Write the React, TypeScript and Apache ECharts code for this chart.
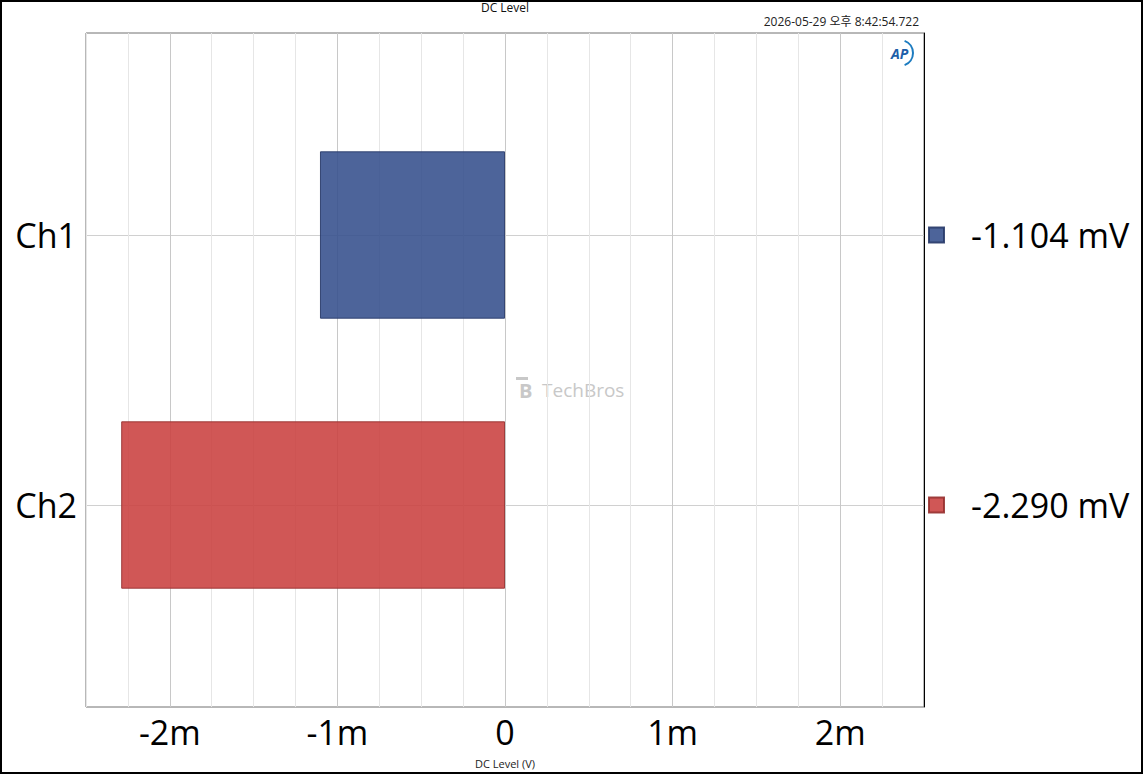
import React, { useEffect, useRef } from "react";
import * as echarts from "echarts";

// ---- data ----
const categories = ["Ch1", "Ch2"];
const dcLevelsV = [-0.001104, -0.00229];
const xTickValuesV = [-0.002, -0.001, 0, 0.001, 0.002];
const xTickLabels = ["-2m", "-1m", "0", "1m", "2m"];
const chartTitle = "DC Level";
const timestamp = "2026-05-29 오후 8:42:54.722";
const xAxisTitle = "DC Level (V)";

const barColors = ["rgba(52,78,140,0.88)", "rgba(202,64,63,0.88)"];
const barBorders = ["rgba(40,58,105,0.9)", "rgba(150,48,47,0.9)"];

const FONT = "'Open Sans', 'Noto Sans CJK KR', 'Noto Sans', sans-serif";

export default function App() {
  const ref = useRef<HTMLDivElement>(null);

  useEffect(() => {
    document.body.style.margin = "0";
    if (!ref.current) return;
    const chart = echarts.init(ref.current, undefined, { renderer: "svg" });

    const GL = 86, GT = 33, GW = 838, GH = 674;
    const BT = 100, BH = 540;
    const names = dcLevelsV.map((v) => `${(v * 1000).toFixed(3)} mV`);

    const xFmt = (v: number) => {
      const idx = xTickValuesV.findIndex((t) => Math.abs(t - v) < 1e-9);
      return idx >= 0 ? xTickLabels[idx] : "";
    };

    const option: any = {
      animation: false,
      textStyle: { fontFamily: FONT },
      grid: [
        {
          left: GL, top: GT, width: GW, height: GH,
          show: true, borderColor: "#707070", borderWidth: 1, backgroundColor: "#fff",
          outerBoundsMode: "none",
        },
        { left: GL, top: BT, width: GW, height: BH, outerBoundsMode: "none" },
      ],
      xAxis: [
        {
          type: "value", gridIndex: 0, min: -0.0025, max: 0.0025, interval: 0.00025,
          axisLine: { show: false }, axisTick: { show: false },
          axisLabel: { formatter: xFmt, fontSize: 34, color: "#000", margin: 8, fontFamily: FONT, showMinLabel: true, showMaxLabel: true },
          splitLine: { show: true, lineStyle: { color: ["#e6e6e6", "#e6e6e6", "#c8c8c8", "#e6e6e6"], width: 1 } },
        },
        {
          type: "value", gridIndex: 1, min: -0.0025, max: 0.0025, show: false,
          splitLine: { show: false },
        },
      ],
      yAxis: [
        {
          type: "value", gridIndex: 0, min: -0.75, max: 1.75, inverse: true, z: 0,
          axisLine: { show: false },
          axisTick: { show: false, customValues: [0, 1] },
          axisLabel: { show: false, customValues: [0, 1] },
          splitLine: { show: true, lineStyle: { color: "#d0d0d0", width: 1 } },
        },
        {
          type: "category", gridIndex: 1, data: categories, inverse: true,
          axisLine: { show: false }, axisTick: { show: false },
          axisLabel: { fontSize: 34, color: "#000", margin: 9, fontFamily: FONT },
          splitLine: { show: false },
        },
        {
          type: "value", gridIndex: 0, min: 0, max: 1, z: 5,
          axisLine: { show: true, onZero: true, lineStyle: { color: "#000", width: 1 } },
          axisTick: { show: false },
          axisLabel: { show: false },
          splitLine: { show: false },
        },
      ],
      legend: categories.map((_, i) => ({
        data: [names[i]],
        orient: "vertical",
        left: 923,
        top: (i === 0 ? 235 : 505) - 25,
        itemWidth: 15,
        itemHeight: 15,
        icon: "rect",
        selectedMode: false,
        textStyle: { fontSize: 34, color: "#000", lineHeight: 40, padding: [0, 0, 0, 22], fontFamily: FONT },
      })),
      series: dcLevelsV.map((v, i) => ({
        type: "bar",
        name: names[i],
        xAxisIndex: 1,
        yAxisIndex: 1,
        data: categories.map((_, j) => (j === i ? v : null)),
        barWidth: "62%",
        barGap: "-100%",
        itemStyle: { color: barColors[i], borderColor: barBorders[i], borderWidth: 1 },
        z: 2,
      })),
      graphic: [
        {
          type: "rect", shape: { x: 1, y: 1, width: 1141, height: 772 },
          style: { fill: "none", stroke: "#000", lineWidth: 2 }, z: 10, silent: true,
        },
        {
          type: "text", x: GL + GW / 2, y: 7,
          style: { text: chartTitle, fontSize: 12, fill: "#111", align: "center", verticalAlign: "middle", fontFamily: FONT },
        },
        {
          type: "text", x: 919, y: 21,
          style: { text: timestamp, fontSize: 12, fill: "#222", align: "right", verticalAlign: "middle", fontFamily: FONT },
        },
        {
          type: "text", x: GL + GW / 2, y: 763,
          style: { text: xAxisTitle, fontSize: 11, fill: "#222", align: "center", verticalAlign: "middle", fontFamily: FONT },
        },
        // AP logo
        {
          type: "text", x: 891, y: 53,
          style: { text: "AP", fontSize: 14, fontWeight: "bold", fontStyle: "italic", fill: "#1d5ea8", verticalAlign: "middle", fontFamily: FONT },
        },
        {
          type: "arc",
          shape: { cx: 900, cy: 53, r: 13, startAngle: -Math.PI / 2.6, endAngle: Math.PI / 2.6 },
          style: { stroke: "#1d7cc0", lineWidth: 2, fill: "none" },
        },
        // watermark
        {
          type: "rect", shape: { x: 516, y: 377, width: 12, height: 3 },
          style: { fill: "#c8c8c8" },
        },
        {
          type: "text", x: 519, y: 390,
          style: { text: "B", fontSize: 20, fontWeight: "bold", fill: "#c8c8c8", verticalAlign: "middle", fontFamily: FONT },
        },
        {
          type: "text", x: 542, y: 390,
          style: { text: "TechBros", fontSize: 19, fill: "#c8c8c8", verticalAlign: "middle", fontFamily: FONT },
        },
      ],
    };

    chart.setOption(option);
    return () => chart.dispose();
  }, []);

  return <div ref={ref} style={{ width: 1143, height: 774 }} />;
}
